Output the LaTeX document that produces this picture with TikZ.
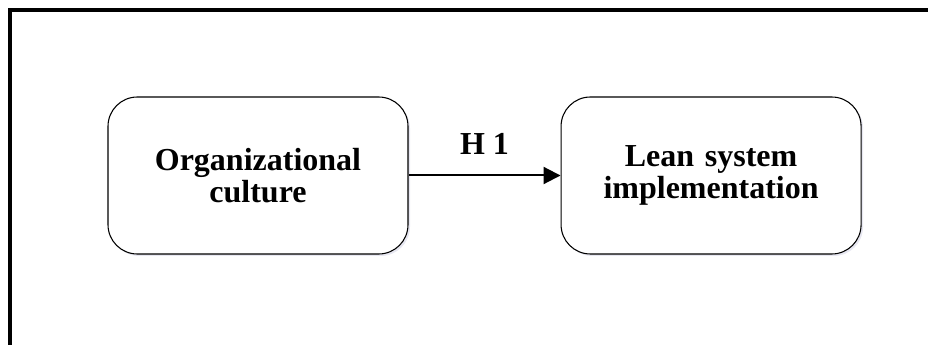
\documentclass[tikz,border=0pt]{standalone}
\usepackage{fontspec}
\setmainfont{Liberation Serif}
\usepackage{xcolor}
\usetikzlibrary{shapes,arrows,arrows.meta,positioning,shadows}

\begin{document}
\begin{tikzpicture}[
    x=0.75pt, y=-0.75pt,
    node distance=114pt,
    construct/.style={rectangle, rounded corners=22pt, draw, line width=0.8pt, fill=white, minimum width=225pt, minimum height=117.75pt, text width=200pt, align=center, font=\bfseries\fontsize{24}{24.5}\selectfont, drop shadow={shadow xshift=1.5pt, shadow yshift=-1.5pt, fill=blue!25!gray!25, opacity=0.6}}
]
\useasboundingbox (0,0) rectangle (928,345);

% frame
\draw[line width=3pt] (10,360) -- (10,10) -- (940,10);

\node[construct] (culture) at (258,175.5) {Organizational\\culture};
\node[construct, right=of culture] (lean) {Lean system\\implementation};

\draw[-{Triangle[length=12.75pt, width=12.75pt]}, line width=1.5pt] (culture) -- node[above=11.5pt, font=\bfseries\fontsize{24}{24}\selectfont, inner sep=3.33pt] (h1) {H 1} (lean);

\end{tikzpicture}
\end{document}
